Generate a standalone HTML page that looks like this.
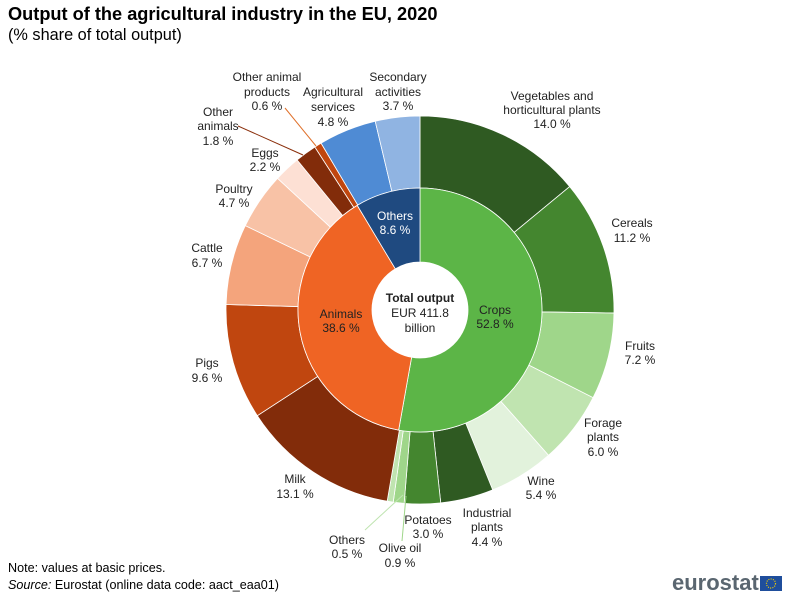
<!DOCTYPE html>
<html><head><meta charset="utf-8"><style>
body{margin:0;background:#fff;font-family:"Liberation Sans",Arial,sans-serif;}
#w{position:relative;width:793px;height:600px;overflow:hidden;}
.t{position:absolute;left:8px;top:4px;font-size:18.2px;font-weight:bold;color:#000;}
.s{position:absolute;left:8px;top:26px;font-size:16.3px;color:#000;}
.n{position:absolute;left:8px;font-size:12.6px;color:#000;}
svg text{font-family:"Liberation Sans",Arial,sans-serif;font-size:12px;fill:#222;}
</style></head><body><div id="w">
<div class="t">Output of the agricultural industry in the EU, 2020</div>
<div class="s">(% share of total output)</div>
<div class="n" style="top:561px">Note: values at basic prices.</div>
<div class="n" style="top:578px"><i>Source:</i> Eurostat (online data code: aact_eaa01)</div>
<svg id="sv" width="793" height="600" style="position:absolute;left:0;top:0">
<g id="pie"></g>
<circle cx="420" cy="310" r="48" fill="#fff"/>
<text x="420" y="302" text-anchor="middle" style="font-weight:bold">Total output</text>
<text x="420" y="317" text-anchor="middle">EUR 411.8</text>
<text x="420" y="332" text-anchor="middle">billion</text>
<text x="495" y="314" text-anchor="middle">Crops</text>
<text x="495" y="328" text-anchor="middle">52.8 %</text>
<text x="341" y="318" text-anchor="middle">Animals</text>
<text x="341" y="332" text-anchor="middle">38.6 %</text>
<text x="395" y="220" text-anchor="middle" style="fill:#fff">Others</text>
<text x="395" y="234" text-anchor="middle" style="fill:#fff">8.6 %</text>
<g text-anchor="middle">
<text x="552" y="100">Vegetables and</text><text x="552" y="114">horticultural  plants</text><text x="552" y="128">14.0 %</text>
<text x="632" y="227">Cereals</text><text x="632" y="242">11.2 %</text>
<text x="640" y="350">Fruits</text><text x="640" y="364">7.2 %</text>
<text x="603" y="427">Forage</text><text x="603" y="441">plants</text><text x="603" y="456">6.0 %</text>
<text x="541" y="485">Wine</text><text x="541" y="499">5.4 %</text>
<text x="487" y="517">Industrial</text><text x="487" y="531">plants</text><text x="487" y="546">4.4 %</text>
<text x="428" y="524">Potatoes</text><text x="428" y="538">3.0 %</text>
<text x="400" y="552">Olive oil</text><text x="400" y="567">0.9 %</text>
<text x="347" y="544">Others</text><text x="347" y="558">0.5 %</text>
<text x="295" y="483">Milk</text><text x="295" y="498">13.1 %</text>
<text x="207" y="367">Pigs</text><text x="207" y="382">9.6 %</text>
<text x="207" y="252">Cattle</text><text x="207" y="267">6.7 %</text>
<text x="234" y="193">Poultry</text><text x="234" y="207">4.7 %</text>
<text x="265" y="157">Eggs</text><text x="265" y="171">2.2 %</text>
<text x="218" y="116">Other</text><text x="218" y="130">animals</text><text x="218" y="145">1.8 %</text>
<text x="267" y="81">Other animal</text><text x="267" y="96">products</text><text x="267" y="110">0.6 %</text>
<text x="333" y="96">Agricultural</text><text x="333" y="111">services</text><text x="333" y="126">4.8 %</text>
<text x="398" y="81">Secondary</text><text x="398" y="96">activities</text><text x="398" y="110">3.7 %</text>
</g>
<line x1="238" y1="126" x2="303" y2="155" stroke="#8a2e0a" stroke-width="1"/>
<line x1="285" y1="108" x2="316" y2="146" stroke="#e0702a" stroke-width="1"/>
<line x1="365" y1="530" x2="403" y2="495" stroke="#bfe4b0" stroke-width="1"/>
<line x1="402" y1="541" x2="406" y2="496" stroke="#9fd68a" stroke-width="1"/>
<text x="672" y="590" style="font-size:22px;font-weight:bold;fill:#5a6670">eurostat</text>
<rect x="760" y="576" width="22" height="15" fill="#1f4e9c"/>
<circle cx="771" cy="583.5" r="4.5" fill="none" stroke="#f5d000" stroke-width="1.2" stroke-dasharray="1 1.3"/>
</svg>
<script>
var cx=420,cy=310;
function arc(r0,r1,a0,a1,fill){
 var f=function(r,a){var t=a*2*Math.PI;return [cx+r*Math.sin(t),cy-r*Math.cos(t)];};
 var large=(a1-a0)>0.5?1:0;
 var p1=f(r1,a0),p2=f(r1,a1),p3=f(r0,a1),p4=f(r0,a0);
 var d="M"+p1+"A"+r1+","+r1+" 0 "+large+" 1 "+p2+"L"+p3+"A"+r0+","+r0+" 0 "+large+" 0 "+p4+"Z";
 var e=document.createElementNS("http://www.w3.org/2000/svg","path");
 e.setAttribute("d",d);e.setAttribute("fill",fill);e.setAttribute("stroke","#fff");e.setAttribute("stroke-width","0.8");
 document.getElementById("pie").appendChild(e);
}
var inner=[[52.8,"#5cb547"],[38.6,"#ef6424"],[8.6,"#1f4a80"]];
var outer=[[14.0,"#2f5a22"],[11.2,"#44862f"],[7.2,"#9fd68a"],[6.0,"#c0e4b0"],[5.4,"#e2f2dc"],[4.4,"#2f5a22"],[3.0,"#44862f"],[0.9,"#9fd68a"],[0.5,"#c0e4b0"],
[13.1,"#822c0a"],[9.6,"#c0460f"],[6.7,"#f4a47c"],[4.7,"#f8c2a6"],[2.2,"#fde0d4"],[1.8,"#822c0a"],[0.6,"#c0460f"],[4.8,"#4f8bd4"],[3.7,"#90b4e2"]];
function draw(list,r0,r1){var s=0;list.forEach(function(x){s+=x[0];});var a=0;list.forEach(function(x){var b=a+x[0]/s;arc(r0,r1,a,b,x[1]);a=b;});}
draw(outer,122,194);draw(inner,48,122);
</script>
</div></body></html>
